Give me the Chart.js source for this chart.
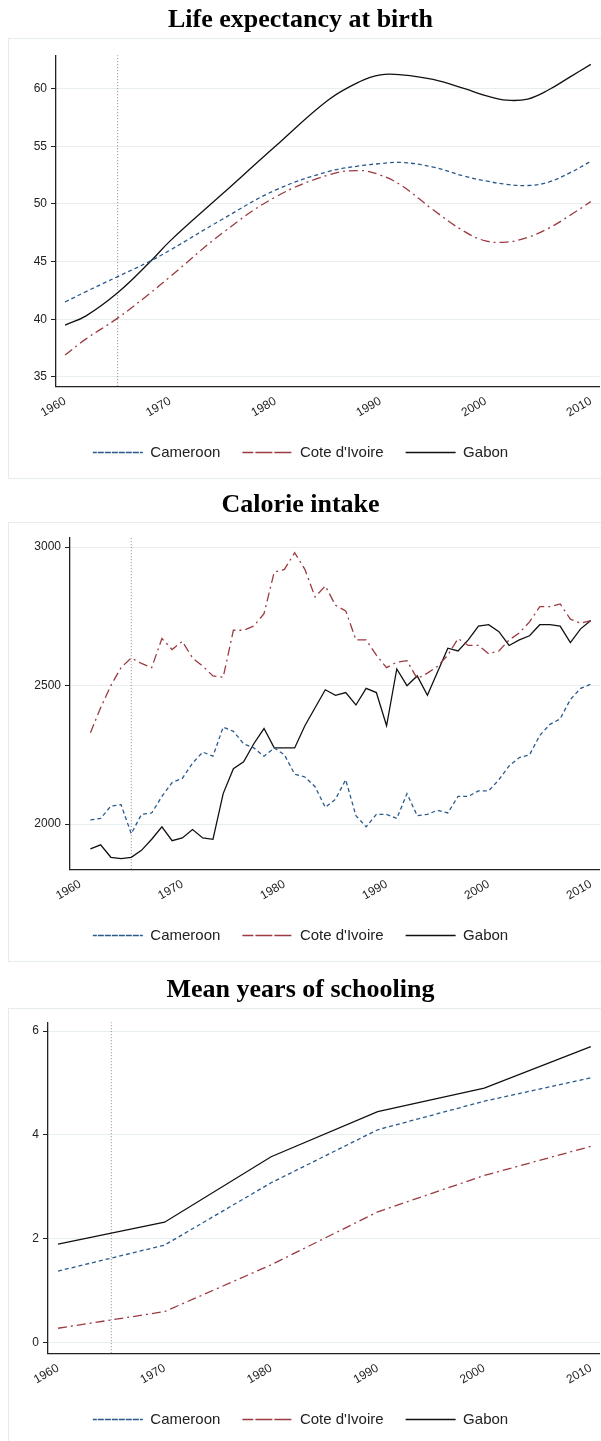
<!DOCTYPE html>
<html><head><meta charset="utf-8">
<script src="https://cdn.jsdelivr.net/npm/chart.js@4"></script>
<style>
body{margin:0;background:#fff;width:601px;height:1441px;overflow:hidden}
.p{position:absolute;left:0;width:601px}
</style></head><body>
<div class="p" style="top:0;height:482px"><canvas id="c1"></canvas></div>
<div class="p" style="top:485px;height:480px"><canvas id="c2"></canvas></div>
<div class="p" style="top:970px;height:471px"><canvas id="c3"></canvas></div>
<script>
// life expectancy (smooth curves)
const lifeYears = [1960,1962,1965,1968,1970,1975,1980,1985,1988,1990,1992,1995,1998,2000,2002,2004,2006,2008,2010];
const lifeCameroon = [41.5,42.4,43.7,45.0,46.0,48.7,51.2,52.8,53.3,53.5,53.6,53.2,52.4,52.0,51.7,51.6,51.9,52.7,53.7];
const lifeCote = [36.9,38.3,40.1,42.2,43.7,47.5,50.6,52.5,52.9,52.5,51.6,49.5,47.6,46.8,46.7,47.1,47.9,49.0,50.2];
const lifeGabon = [39.5,40.3,42.3,44.9,46.8,50.9,55.0,59.0,60.6,61.2,61.2,60.8,60.0,59.4,59.0,59.1,59.9,61.0,62.1];

// calorie intake, 1961-2010
const calYears = Array.from({length:50},(_,i)=>1961+i);
const calCameroon = [2015,2020,2065,2070,1965,2035,2040,2100,2150,2165,2220,2260,2245,2350,2335,2290,2275,2245,2275,2250,
  2180,2170,2135,2060,2090,2160,2030,1990,2035,2035,2020,2110,2030,2035,2050,2040,2100,2100,2120,2120,
  2160,2210,2240,2250,2320,2360,2380,2450,2490,2505];
const calCote = [2330,2420,2500,2565,2600,2580,2565,2670,2630,2660,2600,2570,2535,2530,2700,2700,2715,2760,2910,2920,
  2980,2920,2820,2860,2790,2770,2665,2665,2610,2565,2585,2590,2525,2545,2570,2610,2670,2645,2645,2615,
  2625,2665,2690,2730,2785,2785,2795,2740,2725,2735];
const calGabon = [1910,1925,1880,1875,1880,1905,1945,1990,1940,1950,1980,1950,1945,2110,2200,2225,2290,2345,2275,2275,
  2275,2355,2420,2485,2465,2475,2430,2490,2475,2355,2560,2500,2535,2465,2550,2635,2625,2665,2715,2720,
  2695,2645,2665,2680,2720,2720,2715,2655,2705,2735];

// mean years of schooling
const schoolYears = [1960,1970,1980,1990,2000,2010];
const schoolCameroon = [1.38,1.88,3.08,4.1,4.65,5.1];
const schoolCote = [0.28,0.6,1.5,2.52,3.22,3.78];
const schoolGabon = [1.9,2.32,3.58,4.45,4.9,5.7];

const xTicks = [1960,1970,1980,1990,2000,2010];
const lifeTicks = [35,40,45,50,55,60];
const calTicks = [2000,2500,3000];
const schoolTicks = [0,2,4,6];

const pts = (xs, ys) => xs.map((x,i)=>({x, y:ys[i]}));

const boxPlugin = {
  id:'box',
  beforeDraw(chart, args, opts){
    const c = chart.ctx;
    c.save();
    c.strokeStyle = '#e4ecef';
    c.lineWidth = 1;
    c.strokeRect(8.5, opts.top + 0.5, chart.width, opts.bottom - opts.top);
    c.restore();
  }
};

function makeChart(id, cfg){
  const series = [
    {label:'Cameroon', data:pts(cfg.xs,cfg.cam), borderColor:'#2a5a8c', borderDash:[4,3]},
    {label:"Cote d'Ivoire", data:pts(cfg.xs,cfg.cote), borderColor:'#9b3a40', borderDash:[9,4,2,4]},
    {label:'Gabon', data:pts(cfg.xs,cfg.gab), borderColor:'#111111', borderDash:[]}
  ].map(d=>Object.assign(d,{borderWidth:1.3, pointRadius:0, tension:cfg.tension, fill:false, backgroundColor:'transparent'}));
  series.push({label:'ref', data:[{x:1965,y:cfg.yMin},{x:1965,y:cfg.yMax}], borderColor:'#888',
    borderDash:[1,2], borderWidth:1, pointRadius:0, backgroundColor:'transparent'});
  new Chart(document.getElementById(id), {
    type:'line',
    data:{datasets:series},
    plugins:[boxPlugin],
    options:{
      responsive:true, maintainAspectRatio:false, animation:false,
      layout:{padding:{left:0,right:0,top:0,bottom:cfg.padBottom}},
      plugins:{
        box:{top:cfg.boxTop, bottom:cfg.boxBottom},
        title:{display:true, text:cfg.title, color:'#000',
          font:{family:'Liberation Serif', size:26, weight:'bold'}, padding:{top:5,bottom:cfg.titlePad}},
        legend:{position:'bottom',
          labels:{filter:i=>i.text!=='ref', boxWidth:50, boxHeight:0, color:'#222',
            font:{family:'Liberation Sans', size:15}, padding:cfg.legendPad}},
        tooltip:{enabled:false}
      },
      scales:{
        x:{type:'linear', min:cfg.xMin, max:cfg.xMax,
          afterBuildTicks:a=>{a.ticks = xTicks.map(v=>({value:v}));},
          ticks:{minRotation:30, maxRotation:30, align:'end', color:'#222', font:{family:'Liberation Sans', size:12},
            callback:v=>String(v)},
          grid:{display:false, drawTicks:true, tickLength:5},
          border:{color:'#222', width:1.3}},
        y:{min:cfg.yMin, max:cfg.yMax,
          afterBuildTicks:a=>{a.ticks = cfg.ticks.map(v=>({value:v}));},
          afterFit:a=>{a.width = cfg.axisX;},
          ticks:{color:'#222', font:{family:'Liberation Sans', size:12}, padding:4, callback:v=>String(v)},
          grid:{color:'#e6eef0', tickLength:5, tickColor:'#222'},
          border:{color:'#222', width:1.3}}
      }
    }
  });
}

makeChart('c1',{title:'Life expectancy at birth', xs:lifeYears, cam:lifeCameroon, cote:lifeCote, gab:lifeGabon,
  yMin:34.2, yMax:62.9, ticks:lifeTicks, tension:0.4, boxTop:38, boxBottom:478, axisX:56,
  xMin:1959.14, xMax:2010.86, titlePad:19, legendPad:22, padBottom:12});
makeChart('c2',{title:'Calorie intake', xs:calYears, cam:calCameroon, cote:calCote, gab:calGabon,
  yMin:1837, yMax:3036, ticks:calTicks, tension:0, boxTop:37, boxBottom:476, axisX:70,
  xMin:1959.0, xMax:2010.9, titlePad:16, legendPad:22, padBottom:12});
makeChart('c3',{title:'Mean years of schooling', xs:schoolYears, cam:schoolCameroon, cote:schoolCote, gab:schoolGabon,
  yMin:-0.2, yMax:6.17, ticks:schoolTicks, tension:0, boxTop:38, boxBottom:480, axisX:48,
  xMin:1959.06, xMax:2010.85, titlePad:16, legendPad:22, padBottom:4});
</script>
</body></html>
